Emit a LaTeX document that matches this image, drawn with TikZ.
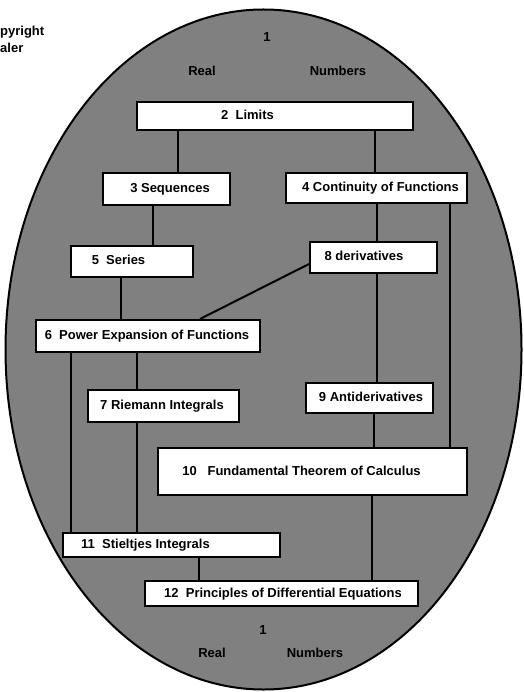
\documentclass[tikz,border=0pt]{standalone}
\usepackage{fontspec}
\setmainfont{Liberation Sans}
% shift a box's label sideways without changing its width
\newcommand\lbl[2]{\kern#1\relax#2\kern-#1\relax}
\begin{document}
\begin{tikzpicture}[x=1pt,y=-1pt,
  every node/.style={font=\bfseries\fontsize{13}{15}\selectfont},
  topic/.style={draw, fill=white, line width=2pt, inner sep=0pt,
                text height=9.5pt, text depth=2.5pt},
  link/.style={line width=2pt},
  tag/.style={inner sep=0pt}]
\useasboundingbox (0,0) rectangle (523,692);

% the field of real numbers
\draw[line width=2pt, fill=black!50] (263.5,349.5) ellipse [x radius=258, y radius=340];

% margin text
\node[tag, anchor=base west] (cp1) at (0,36) {pyright};
\node[tag, anchor=base west] (cp2) at (0,53) {aler};

% labels of the real numbers
\node[tag] (one1) at (267,37) {1};
\node[tag] (real1) at (202,71) {Real};
\node[tag] (num1) at (338,71) {Numbers};
\node[tag] (one2) at (263,630) {1};
\node[tag] (real2) at (212,653) {Real};
\node[tag] (num2) at (315,653) {Numbers};

% topics
\node[topic, minimum width=276pt, minimum height=28pt] (b2) at (275,116) {\lbl{-27.5pt}{2~~Limits}};
\node[topic, minimum width=127pt, minimum height=32pt] (b3) at (166.5,189) {\lbl{3.5pt}{3 Sequences}};
\node[topic, minimum width=181pt, minimum height=30pt] (b4) at (376.5,188) {\lbl{4pt}{4 Continuity of Functions}};
\node[topic, minimum width=122pt, minimum height=31pt] (b5) at (132,261.5) {\lbl{-13.5pt}{5~~Series}};
\node[topic, minimum width=127pt, minimum height=31pt] (b8) at (373.5,257.5) {\lbl{-9.5pt}{8 derivatives}};
\node[topic, minimum width=224pt, minimum height=32pt] (b6) at (148,336) {\lbl{-1pt}{6~~Power Expansion of Functions}};
\node[topic, minimum width=151pt, minimum height=32pt] (b7) at (163.5,406) {\lbl{-1.5pt}{7 Riemann Integrals}};
\node[topic, minimum width=127pt, minimum height=30pt] (b9) at (369.5,398) {\lbl{1.5pt}{9 Antiderivatives}};
\node[topic, minimum width=309pt, minimum height=47pt] (b10) at (312.5,471.5) {\lbl{-11pt}{10~~~Fundamental Theorem of Calculus}};
\node[topic, minimum width=217pt, minimum height=24pt] (b11) at (171.5,545) {\lbl{-26pt}{11~~Stieltjes Integrals}};
\node[topic, minimum width=273pt, minimum height=25pt] (b12) at (281.5,593.5) {\lbl{1.5pt}{12~~Principles of Differential Equations}};

% connectors
\draw[link] (b2.south -| 178,0) -- (b3.north -| 178,0);
\draw[link] (b2.south -| 375,0) -- (b4.north -| 375,0);
\draw[link] (b3.south -| 153,0) -- (b5.north -| 153,0);
\draw[link] (b4.south -| 377,0) -- (b8.north -| 377,0);
\draw[link] (b4.south -| 450,0) -- (b10.north -| 450,0);
\draw[link] (b5.south -| 121,0) -- (b6.north -| 121,0);
\draw[link] ([yshift=10pt]b8.south west) -- (b6.north -| 200,0);
\draw[link] (b8.south -| 377,0) -- (b9.north -| 377,0);
\draw[link] (b6.south -| 71,0) -- (b11.north -| 71,0);
\draw[link] (b6.south -| 137,0) -- (b7.north -| 137,0);
\draw[link] (b7.south -| 137,0) -- (b11.north -| 137,0);
\draw[link] (b9.south -| 374,0) -- (b10.north -| 374,0);
\draw[link] (b10.south -| 372,0) -- (b12.north -| 372,0);
\draw[link] (b11.south -| 199,0) -- (b12.north -| 199,0);
\end{tikzpicture}
\end{document}
